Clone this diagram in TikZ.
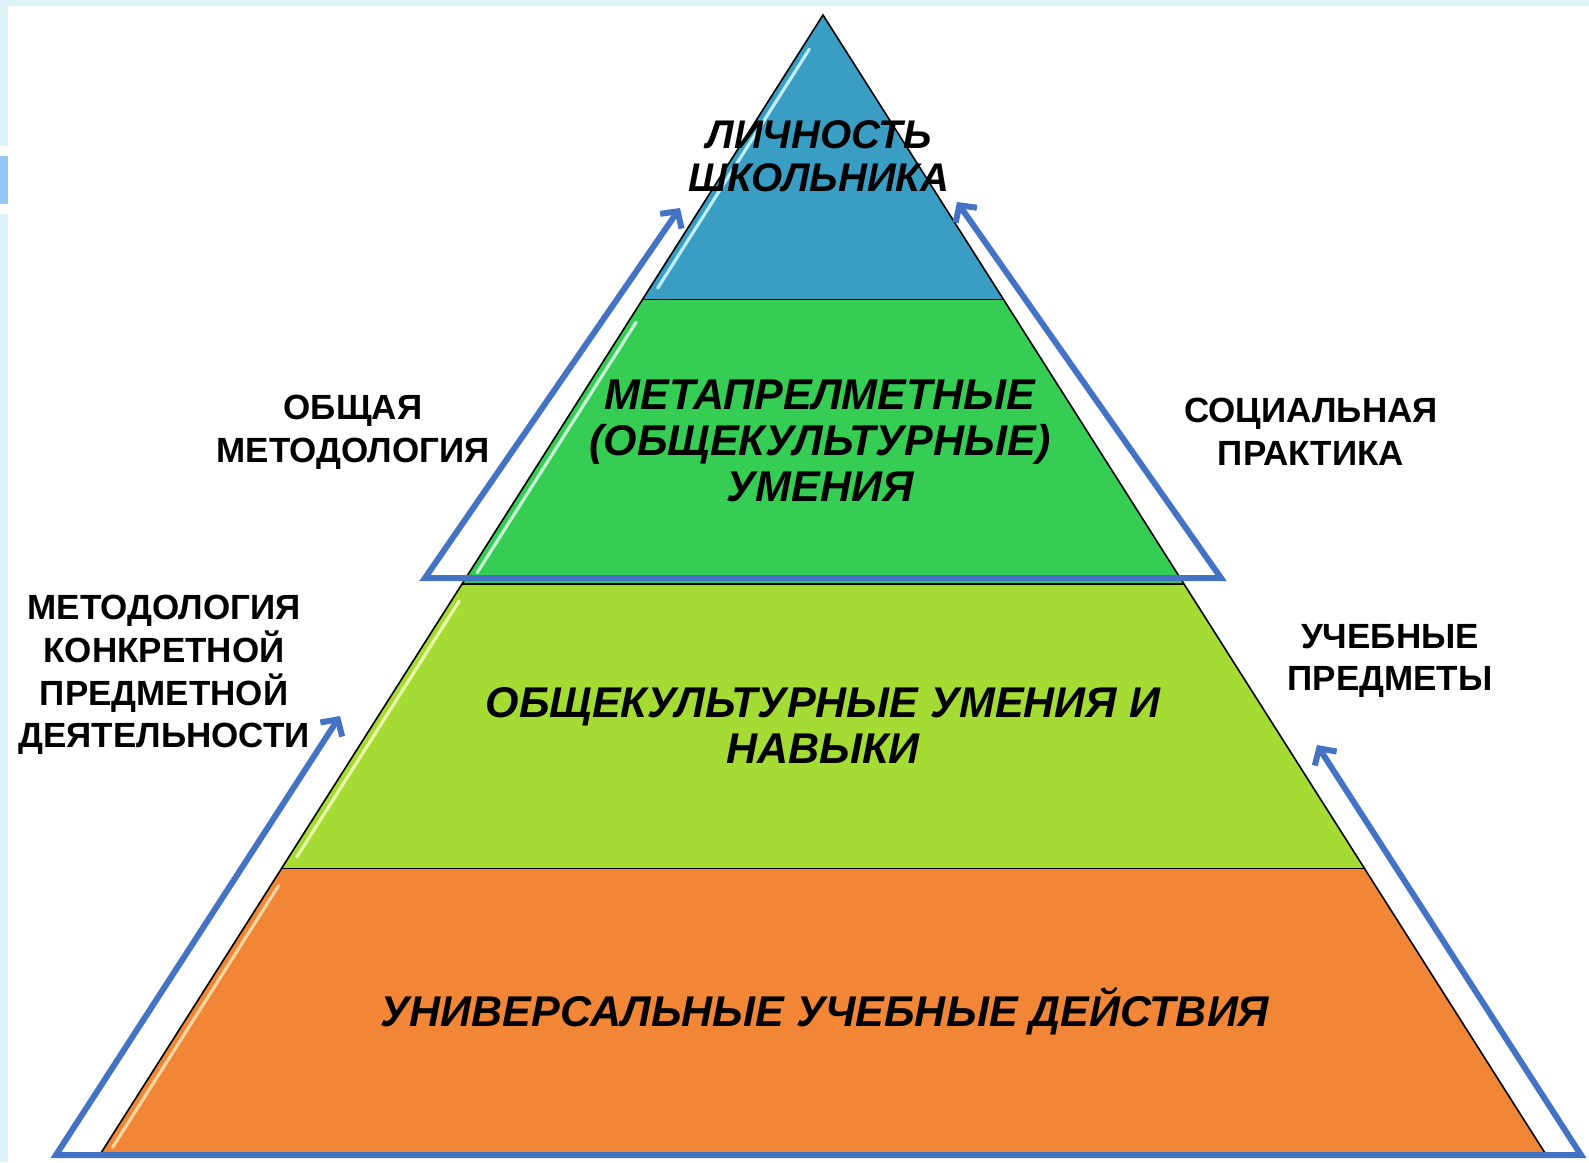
\documentclass[tikz,border=0pt]{standalone}
\usepackage{fontspec}
\setmainfont{Liberation Sans}
\usetikzlibrary{calc}
\usetikzlibrary{arrows.meta}
\usepackage{xcolor}

\definecolor{framecyan}{RGB}{220,244,248}
\definecolor{frameblue}{RGB}{146,200,245}
\definecolor{tierblue}{RGB}{58,158,196}
\definecolor{tiergreen}{RGB}{54,205,85}
\definecolor{tierlime}{RGB}{164,220,52}
\definecolor{tierorange}{RGB}{240,134,54}
\definecolor{flowblue}{RGB}{68,114,196}

\begin{document}
\begin{tikzpicture}[x=0.5pt, y=-0.5pt,
    edge/.style={draw=black, line width=0.8pt},
    gloss/.style={line width=1.6pt, line cap=round},
    flow/.style={draw=flowblue, line width=3pt, line join=miter,
        {Straight Barb[length=6pt,width=13pt]}-{Straight Barb[length=6pt,width=13pt]}},
    pyrtext/.style={font=\bfseries\itshape\fontsize{21.5}{23}\selectfont, align=center, inner sep=0pt},
    sidetext/.style={font=\bfseries\fontsize{17.5}{21.3}\selectfont, align=center, inner sep=0pt}]
    \useasboundingbox (0,0) rectangle (1589,1162);
    % frame strips
    \fill[framecyan] (0,0) rectangle (1589,6);
    \fill[framecyan] (0,0) rectangle (8,146);
    \fill[frameblue] (0,156) rectangle (8,204);
    \fill[framecyan] (0,214) rectangle (8,1162);

    % pyramid
    \coordinate (apex) at (823,15);
    \coordinate (bl) at (101,1153);
    \coordinate (br) at (1545,1153);
    \foreach \t/\n in {0.25/a, 0.5/b, 0.75/c}{
        \coordinate (l\n) at ($(apex)!\t!(bl)$);
        \coordinate (r\n) at ($(apex)!\t!(br)$);
    }
    \fill[tierblue] (apex) -- (ra) -- (la) -- cycle;
    \fill[tiergreen] (la) -- (ra) -- (rb) -- (lb) -- cycle;
    \fill[tierlime] (lb) -- (rb) -- (rc) -- (lc) -- cycle;
    \fill[tierorange] (lc) -- (rc) -- (br) -- (bl) -- cycle;
    % glossy inner lines
    \draw[gloss, draw={rgb,255:red,190;green,238;blue,250}] ($(apex)!0.03!(bl)+(8,0)$) -- ($(apex)!0.24!(bl)+(8,0)$);
    \draw[gloss, draw={rgb,255:red,200;green,250;blue,215}] ($(apex)!0.27!(bl)+(8,0)$) -- ($(apex)!0.49!(bl)+(8,0)$);
    \draw[gloss, draw={rgb,255:red,235;green,250;blue,170}] ($(apex)!0.515!(bl)+(8,0)$) -- ($(apex)!0.74!(bl)+(8,0)$);
    \draw[gloss, draw={rgb,255:red,250;green,215;blue,160}] ($(apex)!0.765!(bl)+(8,0)$) -- ($(apex)!0.995!(bl)+(8,0)$);
    \draw[edge] (apex) -- (bl) -- (br) -- cycle;
    \draw[edge] (la) -- (ra);
    \draw[edge] (lb) -- (rb);
    \draw[edge] (lc) -- (rc);

    % arrows
    \coordinate (upL) at (425,578);
    \coordinate (upR) at (1221,578);
    \coordinate (upLtip) at (680,208);
    \coordinate (upRtip) at (957,202);
    \coordinate (lowL) at (56,1155);
    \coordinate (lowR) at (1581,1155);
    \coordinate (lowLtip) at (340,716);
    \coordinate (lowRtip) at (1317,745);
    \draw[flow] (upLtip) -- (upL) -- (upR) -- (upRtip);
    \draw[flow] (lowLtip) -- (lowL) -- (lowR) -- (lowRtip);

    % labels
    \node[pyrtext, font=\bfseries\itshape\fontsize{20}{21.3}\selectfont] (person) at (819,156) {ЛИЧНОСТЬ\\ШКОЛЬНИКА};
    \node[pyrtext] (meta) at (820,441) {МЕТАПРЕЛМЕТНЫЕ\\(ОБЩЕКУЛЬТУРНЫЕ)\\УМЕНИЯ};
    \node[pyrtext] (skills) at (823,725) {ОБЩЕКУЛЬТУРНЫЕ УМЕНИЯ И\\НАВЫКИ};
    \node[pyrtext] (actions) at (825,1011) {УНИВЕРСАЛЬНЫЕ УЧЕБНЫЕ ДЕЙСТВИЯ};
    \node[sidetext] (method) at (353,432) {ОБЩАЯ\\МЕТОДОЛОГИЯ};
    \node[sidetext] (subjmethod) at (164,675) {МЕТОДОЛОГИЯ\\КОНКРЕТНОЙ\\ПРЕДМЕТНОЙ\\ДЕЯТЕЛЬНОСТИ};
    \node[sidetext] (practice) at (1311,432) {СОЦИАЛЬНАЯ\\ПРАКТИКА};
    \node[sidetext] (subjects) at (1390,661) {УЧЕБНЫЕ\\ПРЕДМЕТЫ};
\end{tikzpicture}
\end{document}
